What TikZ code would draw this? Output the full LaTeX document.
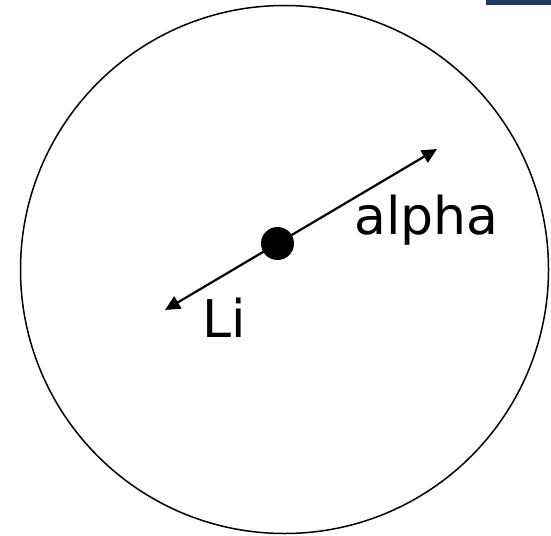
\documentclass[tikz,border=0pt]{standalone}
\usepackage{fontspec}
\setmainfont{DejaVu Sans}
\usetikzlibrary{arrows.meta}
\definecolor{barblue}{RGB}{31,56,100}
\tikzset{
  ring/.style={draw=black, line width=1.5pt},
  vec/.style={draw=black, line width=2.2pt, {Triangle[length=15pt,width=14pt]}-{Triangle[length=15pt,width=14pt]}},
  lbl/.style={font=\fontsize{52}{54}\selectfont, inner sep=0pt, anchor=base west},
  atom/.style={circle, fill=black, minimum size=33pt, inner sep=0pt}
}
\begin{document}
\begin{tikzpicture}[x=1pt,y=-1pt]
\useasboundingbox (0,0) rectangle (551,535);
\fill[barblue] (486,0) rectangle (551,5);
\node[ring, circle, minimum size=528pt, inner sep=0pt] (shell) at (284.5,269.5) {};
\coordinate (tipA) at (437,149);
\coordinate (tipB) at (165,310);
\draw[vec] (tipB) -- (tipA);
\node[atom] (dot) at (277.5,243.5) {};
\node[lbl] (alpha) at (354,234) {alpha};
\node[lbl] (li) at (202,337) {Li};
\end{tikzpicture}
\end{document}
